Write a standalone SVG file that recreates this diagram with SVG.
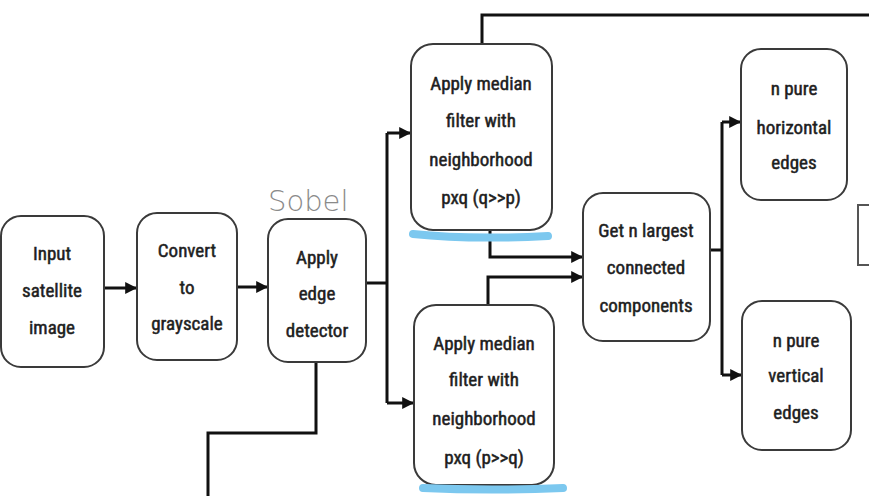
<svg xmlns="http://www.w3.org/2000/svg" width="869" height="496" viewBox="0 0 869 496">
<style>
.box{fill:#fff;stroke:#3a3a3a;stroke-width:2}
.lbl{font-family:"Liberation Sans Narrow","Roboto Condensed",Lato,"Liberation Sans",sans-serif;font-size:19px;fill:#1e1e1e;stroke:#1e1e1e;stroke-width:0.5;text-anchor:middle}
.wire{fill:none;stroke:#111;stroke-width:3;stroke-linejoin:miter}
.hl{fill:none;stroke:#7cc8ef;stroke-width:8;stroke-linecap:round}
</style>
<defs>
<marker id="ah" viewBox="0 0 10 10" refX="9" refY="5" markerWidth="4" markerHeight="4" orient="auto" markerUnits="strokeWidth">
<path d="M0,0 L10,5 L0,10 z" fill="#111"/>
</marker>
</defs>
<rect width="869" height="496" fill="#fff"/>
<g id="connectors">
<path class="wire" d="M105,288 H136" marker-end="url(#ah)"/>
<path class="wire" d="M237,287 H267" marker-end="url(#ah)"/>
<path class="wire" d="M366,283 H387"/>
<path class="wire" d="M387,133 V403"/>
<path class="wire" d="M387,133 H410" marker-end="url(#ah)"/>
<path class="wire" d="M387,403 H413" marker-end="url(#ah)"/>
<path class="wire" d="M482,44 V15 H869"/>
<path class="wire" d="M316,362 V433 H208 V496"/>
<path class="wire" d="M490,230 V257 H582" marker-end="url(#ah)"/>
<path class="wire" d="M488,305 V277 H582" marker-end="url(#ah)"/>
<path class="wire" d="M710,250 H722"/>
<path class="wire" d="M722,122 V375"/>
<path class="wire" d="M722,122 H740" marker-end="url(#ah)"/>
<path class="wire" d="M722,375 H741" marker-end="url(#ah)"/>
</g>
<g id="input">
<rect class="box" x="1" y="216" width="103" height="151" rx="20"/>
<text class="lbl" x="52" y="260">Input</text>
<text class="lbl" x="52" y="297">satellite</text>
<text class="lbl" x="52" y="334">image</text>
</g>
<g id="gray">
<rect class="box" x="137" y="213" width="100" height="147" rx="20"/>
<text class="lbl" x="187" y="257">Convert</text>
<text class="lbl" x="187" y="294">to</text>
<text class="lbl" x="187" y="330">grayscale</text>
</g>
<g id="edge">
<rect class="box" x="268" y="219" width="98" height="143" rx="20"/>
<text class="lbl" x="317" y="264">Apply</text>
<text class="lbl" x="317" y="300">edge</text>
<text class="lbl" x="317" y="337">detector</text>
</g>
<g id="sobel">
<text x="268" y="211" style="font-family:'DejaVu Sans',sans-serif;font-weight:200;font-size:29px;fill:#8a8a8a">Sobel</text>
</g>
<g id="medtop">
<rect class="box" x="411" y="44" width="141" height="186" rx="22"/>
<text class="lbl" x="481" y="90">Apply median</text>
<text class="lbl" x="481" y="127">filter with</text>
<text class="lbl" x="481" y="166">neighborhood</text>
<text class="lbl" x="481" y="204">pxq (q&gt;&gt;p)</text>
</g>
<g id="medbot">
<rect class="box" x="414" y="305" width="140" height="180" rx="22"/>
<text class="lbl" x="484" y="350">Apply median</text>
<text class="lbl" x="484" y="386">filter with</text>
<text class="lbl" x="484" y="425">neighborhood</text>
<text class="lbl" x="484" y="464">pxq (p&gt;&gt;q)</text>
</g>
<g id="highlights">
<path class="hl" d="M413,234 Q470,240 548,236"/>
<path class="hl" d="M423,488 Q490,491 563,488"/>
</g>
<g id="largest">
<rect class="box" x="583" y="193" width="127" height="148" rx="20"/>
<text class="lbl" x="646" y="237">Get n largest</text>
<text class="lbl" x="646" y="274">connected</text>
<text class="lbl" x="646" y="312">components</text>
</g>
<g id="horiz">
<rect class="box" x="741" y="49" width="106" height="151" rx="20"/>
<text class="lbl" x="794" y="95">n pure</text>
<text class="lbl" x="794" y="134">horizontal</text>
<text class="lbl" x="794" y="169">edges</text>
</g>
<g id="vert">
<rect class="box" x="742" y="301" width="109" height="149" rx="20"/>
<text class="lbl" x="796" y="347">n pure</text>
<text class="lbl" x="796" y="382">vertical</text>
<text class="lbl" x="796" y="419">edges</text>
</g>
<g id="partial">
<rect x="858" y="205" width="30" height="60" fill="#fff" stroke="#555" stroke-width="2"/>
</g>
</svg>
